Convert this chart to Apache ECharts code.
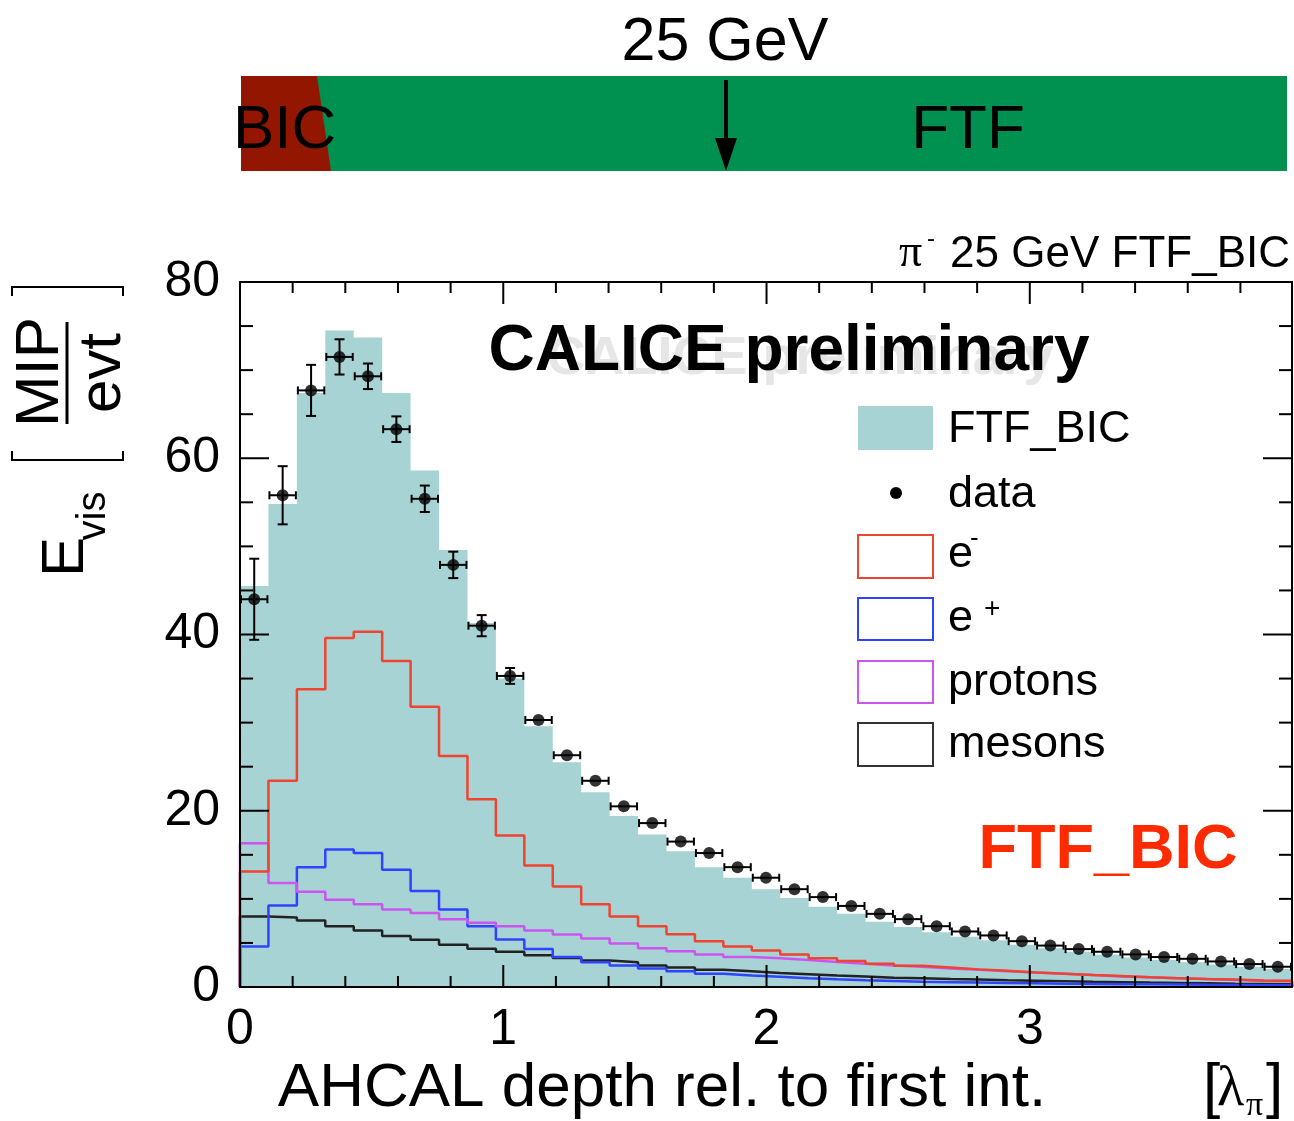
<!DOCTYPE html>
<html><head><meta charset="utf-8">
<script src="https://cdn.jsdelivr.net/npm/echarts/dist/echarts.min.js"></script>
<style>html,body{margin:0;padding:0;background:#fff}#c{width:1294px;height:1121px}</style>
</head><body><div id="c"></div>
<script>
// ---------- data ----------
const BIN_WIDTH = 0.108;            // lambda_pi per bin
const X_MAX = 3.996;                // 37 bins
const Y_MAX = 80;
const xTickLabels = ['0', '1', '2', '3'];
const yTickLabels = ['0', '20', '40', '60', '80'];
const xMajorTicks = [0, 1, 2, 3];
const xMinorTicks = [0.2, 0.4, 0.6, 0.8, 1.2, 1.4, 1.6, 1.8, 2.2, 2.4, 2.6, 2.8, 3.2, 3.4, 3.6, 3.8];
const yMajorTicks = [0, 20, 40, 60, 80];
const yMinorTicks = [5, 10, 15, 25, 30, 35, 45, 50, 55, 65, 70, 75];

const ftfBic = [45.5, 54.8, 67.4, 74.5, 73.7, 67.4, 58.6, 49.6, 41.3, 35.0, 29.6, 25.5, 22.1, 19.4, 17.3, 15.4, 13.6, 12.4, 11.1, 10.1, 9.1, 8.3, 7.4, 6.8, 6.2, 5.7, 5.3, 4.8, 4.4, 4.0, 3.65, 3.35, 3.05, 2.8, 2.55, 2.3, 2.05];
const dataVals = [44.0, 55.8, 67.7, 71.5, 69.3, 63.3, 55.4, 47.9, 41.0, 35.3, 30.3, 26.3, 23.4, 20.5, 18.6, 16.5, 15.2, 13.6, 12.4, 11.1, 10.2, 9.2, 8.3, 7.7, 6.9, 6.3, 5.85, 5.2, 4.7, 4.3, 4.0, 3.7, 3.4, 3.2, 2.9, 2.6, 2.3];
const dataErr = [4.6, 3.3, 2.9, 2.0, 1.45, 1.45, 1.5, 1.5, 1.2, 0.9, 0.6, 0.5, 0.45, 0.4, 0.35, 0.3, 0.3, 0.25, 0.25, 0.2, 0.2, 0.2, 0.2, 0.15, 0.15, 0.15, 0.15, 0.12, 0.12, 0.12, 0.1, 0.1, 0.1, 0.1, 0.1, 0.1, 0.1];
const electrons = [13.1, 23.4, 33.8, 39.6, 40.3, 37.0, 31.8, 26.2, 21.3, 17.2, 13.8, 11.4, 9.4, 8.0, 6.9, 6.0, 5.2, 4.6, 4.15, 3.7, 3.25, 2.95, 2.65, 2.4, 2.2, 2.0, 1.85, 1.65, 1.5, 1.35, 1.25, 1.1, 1.0, 0.9, 0.85, 0.75, 0.7];
const positrons = [4.6, 9.25, 13.6, 15.6, 15.2, 13.3, 10.9, 8.8, 6.9, 5.4, 4.3, 3.4, 2.8, 2.45, 2.1, 1.8, 1.5, 1.3, 1.15, 1.0, 0.87, 0.76, 0.68, 0.6, 0.55, 0.5, 0.45, 0.42, 0.38, 0.35, 0.32, 0.3, 0.28, 0.25, 0.23, 0.21, 0.2];
const protons = [16.3, 11.8, 10.8, 9.9, 9.4, 8.8, 8.4, 7.7, 7.3, 6.9, 6.4, 5.95, 5.5, 4.95, 4.4, 4.05, 3.7, 3.4, 3.25, 3.05, 2.85, 2.65, 2.45, 2.3, 2.1, 1.95, 1.8, 1.65, 1.5, 1.35, 1.2, 1.1, 1.0, 0.9, 0.8, 0.72, 0.65];
const mesons = [8.0, 7.9, 7.55, 6.9, 6.4, 5.8, 5.35, 4.8, 4.35, 4.0, 3.6, 3.3, 3.0, 2.8, 2.45, 2.2, 1.95, 1.8, 1.6, 1.45, 1.3, 1.2, 1.05, 0.98, 0.9, 0.85, 0.78, 0.72, 0.66, 0.6, 0.55, 0.5, 0.46, 0.42, 0.38, 0.35, 0.32];

// ---------- helpers ----------
const FONT = '"Liberation Sans", Arial, Helvetica, sans-serif';
const SERIF = '"Liberation Serif", "Times New Roman", serif';
const edge = i => +(i * BIN_WIDTH).toFixed(4);
function stepData(vals, closed) {
  const pts = [];
  if (closed) pts.push([0, 0]);
  vals.forEach((v, i) => pts.push([edge(i), v]));
  pts.push([edge(vals.length), vals[vals.length - 1]]);
  if (closed) pts.push([edge(vals.length), 0]);
  return pts;
}
function T(text, x, baseline, fs, o) {
  o = o || {};
  return {
    type: 'text', x: x, y: baseline - 0.31 * fs, z: 100,
    style: { text: text, x: 0, y: 0, fontSize: fs, fontFamily: o.family || FONT,
      fontWeight: o.weight || 'normal', fill: o.fill || '#000',
      align: o.align || 'left', verticalAlign: 'middle' }
  };
}
function RT(text, cx, cy, fs) { // rotated text (reads bottom -> top), centred
  return {
    type: 'text', x: cx, y: cy, rotation: Math.PI / 2, z: 100,
    style: { text: text, x: 0, y: 0, fontSize: fs, fontFamily: FONT, fill: '#000',
      align: 'center', verticalAlign: 'middle' }
  };
}

const errData = dataVals.map((v, i) => [edge(i) + BIN_WIDTH / 2, v, BIN_WIDTH / 2, dataErr[i]]);
const ptData = dataVals.map((v, i) => [edge(i) + BIN_WIDTH / 2, v]);
// tick marks: [kind (0 = x, 1 = y), value, major]
const tickData = [].concat(
  xMajorTicks.map(v => [0, v, 1]), xMinorTicks.map(v => [0, v, 0]),
  yMajorTicks.map(v => [1, v, 1]), yMinorTicks.map(v => [1, v, 0]));

const COL = { teal: '#a7d3d4', red: '#ee4430', blue: '#2f43ff', mag: '#cc55f0', blk: '#222222' };

function lineSeries(name, vals, color) {
  return { name: name, type: 'line', step: 'end', data: stepData(vals, true),
    symbol: 'none', showSymbol: false, z: 3, clip: false,
    lineStyle: { color: color, width: 2.5 }, itemStyle: { color: color } };
}

function mkAxis(pos, min, max, interval, label) {
  return {
    type: 'value', position: pos, min: min, max: max, interval: interval, z: 10,
    axisLine: { show: true, onZero: false, lineStyle: { color: '#000', width: 2 } },
    axisTick: { show: false },
    minorTick: { show: false },
    splitLine: { show: false },
    axisLabel: label || { show: false }
  };
}
const xLabel = { show: true, showMaxLabel: false, fontSize: 50, color: '#000', margin: 18, fontFamily: FONT,
  formatter: v => { const i = Math.round(v); return Math.abs(v - i) < 1e-6 && xTickLabels[i] !== undefined ? xTickLabels[i] : ''; } };
const yLabel = { show: true, fontSize: 50, color: '#000', margin: 20, fontFamily: FONT, padding: [8, 0, 0, 0],
  formatter: v => { const i = Math.round(v / 20); return yTickLabels[i] || ''; } };

const option = {
  animation: false,
  backgroundColor: '#fff',
  textStyle: { fontFamily: FONT },
  grid: { left: 240, right: 2, top: 282, bottom: 134, containLabel: false },
  xAxis: [
    mkAxis('bottom', 0, X_MAX, 1, xLabel),
    mkAxis('top', 0, X_MAX, 1)
  ],
  yAxis: [
    mkAxis('left', 0, Y_MAX, 20, yLabel),
    mkAxis('right', 0, Y_MAX, 20)
  ],
  series: [
    { name: 'FTF_BIC', type: 'line', step: 'end', data: stepData(ftfBic, false),
      symbol: 'none', showSymbol: false, z: 1,
      lineStyle: { width: 0, color: COL.teal }, itemStyle: { color: COL.teal },
      areaStyle: { color: COL.teal, opacity: 1 } },
    lineSeries('mesons', mesons, COL.blk),
    lineSeries('e+', positrons, COL.blue),
    lineSeries('protons', protons, COL.mag),
    lineSeries('e-', electrons, COL.red),
    { name: 'data errors', type: 'custom', z: 5, data: errData,
      encode: { x: 0, y: 1 },
      renderItem: function (params, api) {
        const x = api.value(0), y = api.value(1), ex = api.value(2), ey = api.value(3);
        const c = api.coord([x, y]);
        const l = api.coord([x - ex, y]), r = api.coord([x + ex, y]);
        const t = api.coord([x, y + ey]), b = api.coord([x, y - ey]);
        const st = { stroke: '#000', lineWidth: 2 };
        const ch = [
          { type: 'line', shape: { x1: l[0] + 1, y1: l[1], x2: r[0] - 1, y2: r[1] }, style: st },
          { type: 'line', shape: { x1: l[0] + 1, y1: l[1] - 4, x2: l[0] + 1, y2: l[1] + 4 }, style: st },
          { type: 'line', shape: { x1: r[0] - 1, y1: r[1] - 4, x2: r[0] - 1, y2: r[1] + 4 }, style: st }
        ];
        if (c[1] - t[1] > 6) {
          ch.push({ type: 'line', shape: { x1: t[0], y1: t[1], x2: b[0], y2: b[1] }, style: st });
          ch.push({ type: 'line', shape: { x1: t[0] - 5, y1: t[1], x2: t[0] + 5, y2: t[1] }, style: st });
          ch.push({ type: 'line', shape: { x1: b[0] - 5, y1: b[1], x2: b[0] + 5, y2: b[1] }, style: st });
        }
        return { type: 'group', children: ch };
      } },
    { name: 'data', type: 'scatter', z: 6, data: ptData, symbol: 'circle', symbolSize: 12,
      itemStyle: { color: '#000' } },
    { name: 'ticks', type: 'custom', z: 20, clip: false, silent: true, data: tickData,
      encode: { x: -1, y: -1 },
      renderItem: function (params, api) {
        const kind = api.value(0), v = api.value(1), major = api.value(2);
        const st = { stroke: '#000', lineWidth: 2 };
        if (kind === 0) {
          const len = major ? 22 : 11;
          const b = api.coord([v, 0]), t = api.coord([v, Y_MAX]);
          return { type: 'group', children: [
            { type: 'line', shape: { x1: b[0], y1: b[1], x2: b[0], y2: b[1] - len }, style: st },
            { type: 'line', shape: { x1: t[0], y1: t[1], x2: t[0], y2: t[1] + len }, style: st }] };
        }
        const len = major ? 29 : 13;
        const l = api.coord([0, v]), r = api.coord([X_MAX, v]);
        return { type: 'group', children: [
          { type: 'line', shape: { x1: l[0], y1: l[1], x2: l[0] + len, y2: l[1] }, style: st },
          { type: 'line', shape: { x1: r[0], y1: r[1], x2: r[0] - len, y2: r[1] }, style: st }] };
      } }
  ],
  graphic: [
    // ---- top banner ----
    { type: 'polygon', z: 90, shape: { points: [[241, 76], [1287, 76], [1287, 171], [241, 171]] }, style: { fill: '#009150' } },
    { type: 'polygon', z: 91, shape: { points: [[241, 76], [317, 76], [331, 171], [241, 171]] }, style: { fill: '#931600' } },
    T('BIC', 233, 150, 62),
    T('FTF', 968, 150, 62, { align: 'center' }),
    T('25 GeV', 725, 62, 61, { align: 'center' }),
    { type: 'line', z: 95, shape: { x1: 726, y1: 80, x2: 726, y2: 145 }, style: { stroke: '#000', lineWidth: 4 } },
    { type: 'polygon', z: 95, shape: { points: [[715, 138], [737, 138], [726, 171]] }, style: { fill: '#000' } },
    // ---- top right caption ----
    T('\u03c0', 899, 268, 46, { family: SERIF }),
    T('-', 927, 247, 24),
    T('25 GeV FTF_BIC', 1290, 268, 44, { align: 'right' }),
    // ---- in-plot labels ----
    T('CALICE preliminary', 800, 376, 54, { align: 'center', weight: 'bold', fill: '#e6e6e6' }),
    T('CALICE preliminary', 789, 372, 64, { align: 'center', weight: 'bold' }),
    T('FTF_BIC', 1108, 870, 63, { align: 'center', weight: 'bold', fill: '#ff2b00' }),
    // ---- legend ----
    { type: 'rect', z: 95, shape: { x: 858, y: 406, width: 75, height: 44 }, style: { fill: COL.teal } },
    T('FTF_BIC', 948, 444, 45),
    { type: 'circle', z: 95, shape: { cx: 896, cy: 493, r: 6 }, style: { fill: '#000' } },
    T('data', 948, 509, 45),
    { type: 'rect', z: 95, shape: { x: 858, y: 535, width: 75, height: 43 }, style: { fill: 'none', stroke: COL.red, lineWidth: 2 } },
    T('e', 948, 569, 45),
    T('-', 970, 547, 26),
    { type: 'rect', z: 95, shape: { x: 858, y: 598, width: 75, height: 42 }, style: { fill: 'none', stroke: COL.blue, lineWidth: 2 } },
    T('e', 948, 633, 45),
    T('+', 984, 618, 28),
    { type: 'rect', z: 95, shape: { x: 858, y: 661, width: 75, height: 42 }, style: { fill: 'none', stroke: COL.mag, lineWidth: 2 } },
    T('protons', 948, 697, 45),
    { type: 'rect', z: 95, shape: { x: 858, y: 723, width: 75, height: 43 }, style: { fill: 'none', stroke: '#333', lineWidth: 2 } },
    T('mesons', 948, 759, 45),
    // ---- x axis title ----
    T('AHCAL depth rel. to first int.', 662, 1108, 62, { align: 'center' }),
    T('[', 1203, 1108, 62),
    T('\u03bb', 1217, 1108, 56, { family: SERIF }),
    T('\u03c0', 1246, 1117, 34, { family: SERIF }),
    T(']', 1266, 1108, 62),
    // ---- y axis title (rotated) ----
    RT('E', 66, 557, 60),
    RT('vis', 94, 516, 40),
    RT('MIP', 41, 372, 62),
    RT('evt', 103, 373, 60),
    { type: 'line', z: 95, shape: { x1: 67, y1: 322, x2: 67, y2: 424 }, style: { stroke: '#000', lineWidth: 3 } },
    { type: 'polyline', z: 95, shape: { points: [[12, 451], [12, 460], [123, 460], [123, 451]] }, style: { fill: 'none', stroke: '#000', lineWidth: 2 } },
    { type: 'polyline', z: 95, shape: { points: [[12, 296], [12, 287], [123, 287], [123, 296]] }, style: { fill: 'none', stroke: '#000', lineWidth: 2 } }
  ]
};

const chart = echarts.init(document.getElementById('c'), null, { renderer: 'canvas' });
chart.setOption(option);
</script>
</body></html>
